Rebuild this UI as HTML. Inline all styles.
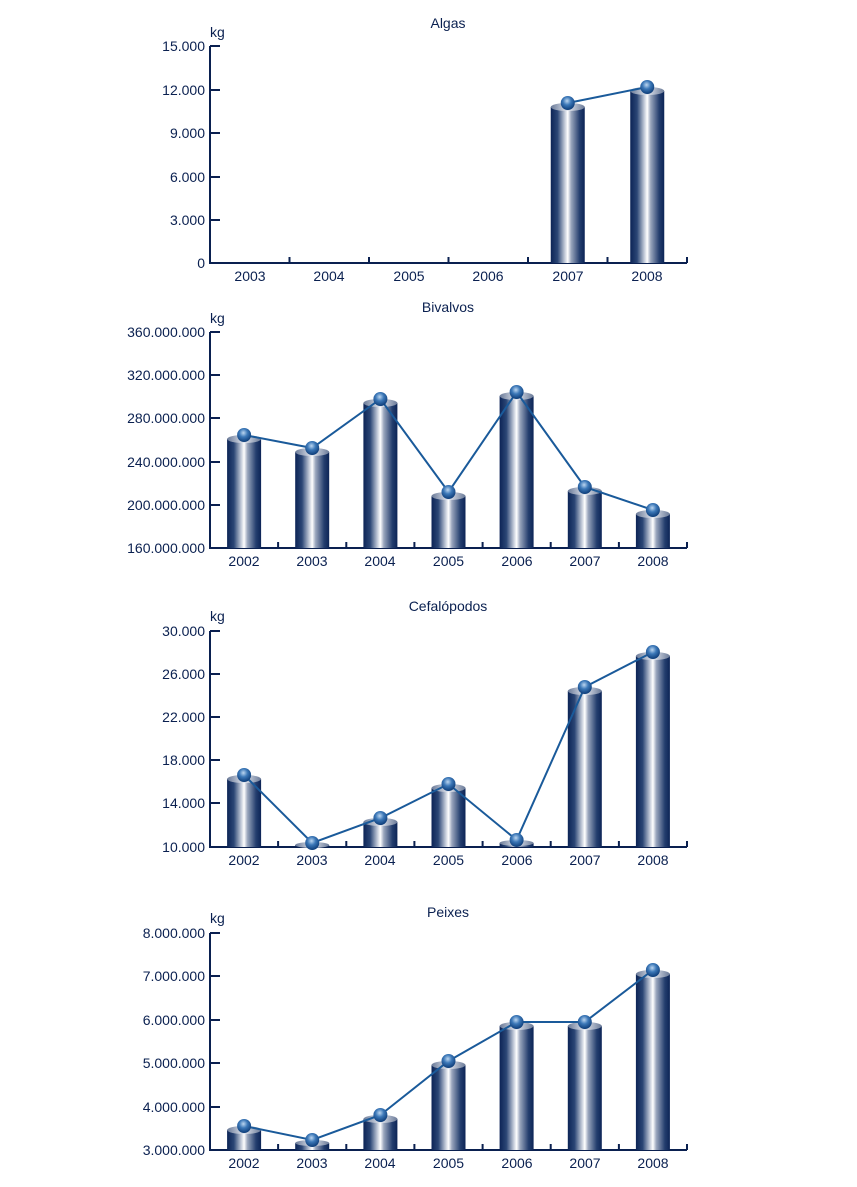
<!DOCTYPE html>
<html><head><meta charset="utf-8"><style>
html,body{margin:0;padding:0;background:#fff}
svg text{font-family:"Liberation Sans",sans-serif;font-size:14px;fill:#0a2050}
</style></head><body>
<svg width="857" height="1182" viewBox="0 0 857 1182" xmlns="http://www.w3.org/2000/svg">
<defs>
<linearGradient id="bg" x1="0" x2="1" y1="0" y2="0">
<stop offset="0" stop-color="#0c2456"/><stop offset="0.2" stop-color="#2b4675"/><stop offset="0.42" stop-color="#c8cfdc"/><stop offset="0.5" stop-color="#ffffff"/><stop offset="0.6" stop-color="#9aa6bd"/><stop offset="0.85" stop-color="#243e6e"/><stop offset="1" stop-color="#0c2456"/>
</linearGradient>
<linearGradient id="tg" x1="0" x2="1"><stop offset="0" stop-color="#6a7a98"/><stop offset="0.5" stop-color="#e4e8f0"/><stop offset="1" stop-color="#6a7a98"/></linearGradient>
<radialGradient id="sg" cx="0.45" cy="0.35" r="0.65"><stop offset="0" stop-color="#bcd6f0"/><stop offset="0.45" stop-color="#3c78b8"/><stop offset="1" stop-color="#0d3c78"/></radialGradient>
</defs>
<g stroke="#0a2050" stroke-width="2" fill="none">
<path d="M210 46V263H687"/>
<path d="M210 46h10M210 90h10M210 133h10M210 177h10M210 220h10"/>
<path d="M289.5 263v-6M369 263v-6M448.5 263v-6M528 263v-6M607.5 263v-6M687 263v-6"/>
<path d="M210 332V548H687"/>
<path d="M210 332h10M210 375h10M210 418h10M210 462h10M210 505h10"/>
<path d="M278.1 548v-6M346.3 548v-6M414.4 548v-6M482.6 548v-6M550.7 548v-6M618.9 548v-6M687 548v-6"/>
<path d="M210 631V847H687"/>
<path d="M210 631h10M210 674h10M210 717h10M210 760h10M210 803h10"/>
<path d="M278.1 847v-6M346.3 847v-6M414.4 847v-6M482.6 847v-6M550.7 847v-6M618.9 847v-6M687 847v-6"/>
<path d="M210 933V1150H687"/>
<path d="M210 933h10M210 976h10M210 1020h10M210 1063h10M210 1107h10"/>
<path d="M278.1 1150v-6M346.3 1150v-6M414.4 1150v-6M482.6 1150v-6M550.7 1150v-6M618.9 1150v-6M687 1150v-6"/>
</g>
<g>
<rect x="550.75" y="107" width="34" height="156" fill="url(#bg)"/><ellipse cx="567.75" cy="107" rx="17" ry="4" fill="url(#tg)"/>
<rect x="630.25" y="91" width="34" height="172" fill="url(#bg)"/><ellipse cx="647.25" cy="91" rx="17" ry="4" fill="url(#tg)"/>
<polyline points="567.75,103 647.25,87" fill="none" stroke="#1a5a9a" stroke-width="2"/>
<circle cx="567.75" cy="103" r="7" fill="url(#sg)"/><circle cx="647.25" cy="87" r="7" fill="url(#sg)"/>
</g>
<g>
<rect x="227.1" y="439" width="34" height="109" fill="url(#bg)"/><ellipse cx="244.1" cy="439" rx="17" ry="4" fill="url(#tg)"/>
<rect x="295.2" y="452" width="34" height="96" fill="url(#bg)"/><ellipse cx="312.2" cy="452" rx="17" ry="4" fill="url(#tg)"/>
<rect x="363.4" y="403" width="34" height="145" fill="url(#bg)"/><ellipse cx="380.4" cy="403" rx="17" ry="4" fill="url(#tg)"/>
<rect x="431.5" y="496" width="34" height="52" fill="url(#bg)"/><ellipse cx="448.5" cy="496" rx="17" ry="4" fill="url(#tg)"/>
<rect x="499.6" y="396" width="34" height="152" fill="url(#bg)"/><ellipse cx="516.6" cy="396" rx="17" ry="4" fill="url(#tg)"/>
<rect x="567.8" y="491" width="34" height="57" fill="url(#bg)"/><ellipse cx="584.8" cy="491" rx="17" ry="4" fill="url(#tg)"/>
<rect x="635.9" y="514" width="34" height="34" fill="url(#bg)"/><ellipse cx="652.9" cy="514" rx="17" ry="4" fill="url(#tg)"/>
<polyline points="244.1,435 312.2,448 380.4,399 448.5,492 516.6,392 584.8,487 652.9,510" fill="none" stroke="#1a5a9a" stroke-width="2"/>
<circle cx="244.1" cy="435" r="7" fill="url(#sg)"/><circle cx="312.2" cy="448" r="7" fill="url(#sg)"/><circle cx="380.4" cy="399" r="7" fill="url(#sg)"/><circle cx="448.5" cy="492" r="7" fill="url(#sg)"/><circle cx="516.6" cy="392" r="7" fill="url(#sg)"/><circle cx="584.8" cy="487" r="7" fill="url(#sg)"/><circle cx="652.9" cy="510" r="7" fill="url(#sg)"/>
</g>
<g>
<rect x="227.1" y="779" width="34" height="68" fill="url(#bg)"/><ellipse cx="244.1" cy="779" rx="17" ry="4" fill="url(#tg)"/>
<rect x="295.2" y="845" width="34" height="2" fill="url(#bg)"/><ellipse cx="312.2" cy="845" rx="17" ry="3" fill="url(#tg)"/>
<rect x="363.4" y="822" width="34" height="25" fill="url(#bg)"/><ellipse cx="380.4" cy="822" rx="17" ry="4" fill="url(#tg)"/>
<rect x="431.5" y="788" width="34" height="59" fill="url(#bg)"/><ellipse cx="448.5" cy="788" rx="17" ry="4" fill="url(#tg)"/>
<rect x="499.6" y="843" width="34" height="4" fill="url(#bg)"/><ellipse cx="516.6" cy="843" rx="17" ry="3" fill="url(#tg)"/>
<rect x="567.8" y="691" width="34" height="156" fill="url(#bg)"/><ellipse cx="584.8" cy="691" rx="17" ry="4" fill="url(#tg)"/>
<rect x="635.9" y="656" width="34" height="191" fill="url(#bg)"/><ellipse cx="652.9" cy="656" rx="17" ry="4" fill="url(#tg)"/>
<polyline points="244.1,775 312.2,843 380.4,818 448.5,784 516.6,840 584.8,687 652.9,652" fill="none" stroke="#1a5a9a" stroke-width="2"/>
<circle cx="244.1" cy="775" r="7" fill="url(#sg)"/><circle cx="312.2" cy="843" r="7" fill="url(#sg)"/><circle cx="380.4" cy="818" r="7" fill="url(#sg)"/><circle cx="448.5" cy="784" r="7" fill="url(#sg)"/><circle cx="516.6" cy="840" r="7" fill="url(#sg)"/><circle cx="584.8" cy="687" r="7" fill="url(#sg)"/><circle cx="652.9" cy="652" r="7" fill="url(#sg)"/>
</g>
<g>
<rect x="227.1" y="1130" width="34" height="20" fill="url(#bg)"/><ellipse cx="244.1" cy="1130" rx="17" ry="4" fill="url(#tg)"/>
<rect x="295.2" y="1143" width="34" height="7" fill="url(#bg)"/><ellipse cx="312.2" cy="1143" rx="17" ry="3" fill="url(#tg)"/>
<rect x="363.4" y="1119" width="34" height="31" fill="url(#bg)"/><ellipse cx="380.4" cy="1119" rx="17" ry="4" fill="url(#tg)"/>
<rect x="431.5" y="1065" width="34" height="85" fill="url(#bg)"/><ellipse cx="448.5" cy="1065" rx="17" ry="4" fill="url(#tg)"/>
<rect x="499.6" y="1026" width="34" height="124" fill="url(#bg)"/><ellipse cx="516.6" cy="1026" rx="17" ry="4" fill="url(#tg)"/>
<rect x="567.8" y="1026" width="34" height="124" fill="url(#bg)"/><ellipse cx="584.8" cy="1026" rx="17" ry="4" fill="url(#tg)"/>
<rect x="635.9" y="974" width="34" height="176" fill="url(#bg)"/><ellipse cx="652.9" cy="974" rx="17" ry="4" fill="url(#tg)"/>
<polyline points="244.1,1126 312.2,1140 380.4,1115 448.5,1061 516.6,1022 584.8,1022 652.9,970" fill="none" stroke="#1a5a9a" stroke-width="2"/>
<circle cx="244.1" cy="1126" r="7" fill="url(#sg)"/><circle cx="312.2" cy="1140" r="7" fill="url(#sg)"/><circle cx="380.4" cy="1115" r="7" fill="url(#sg)"/><circle cx="448.5" cy="1061" r="7" fill="url(#sg)"/><circle cx="516.6" cy="1022" r="7" fill="url(#sg)"/><circle cx="584.8" cy="1022" r="7" fill="url(#sg)"/><circle cx="652.9" cy="970" r="7" fill="url(#sg)"/>
</g>
<g text-anchor="middle">
<text x="448" y="28">Algas</text>
<text x="448" y="312">Bivalvos</text>
<text x="448" y="611">Cefalópodos</text>
<text x="448" y="917">Peixes</text>
</g>
<g>
<text x="210" y="37">kg</text><text x="210" y="323">kg</text><text x="210" y="621">kg</text><text x="210" y="923">kg</text>
</g>
<g text-anchor="end">
<text x="205" y="51">15.000</text><text x="205" y="95">12.000</text><text x="205" y="138">9.000</text><text x="205" y="182">6.000</text><text x="205" y="225">3.000</text><text x="205" y="268">0</text>
<text x="205" y="337">360.000.000</text><text x="205" y="380">320.000.000</text><text x="205" y="423">280.000.000</text><text x="205" y="467">240.000.000</text><text x="205" y="510">200.000.000</text><text x="205" y="553">160.000.000</text>
<text x="205" y="636">30.000</text><text x="205" y="679">26.000</text><text x="205" y="722">22.000</text><text x="205" y="765">18.000</text><text x="205" y="808">14.000</text><text x="205" y="852">10.000</text>
<text x="205" y="938">8.000.000</text><text x="205" y="981">7.000.000</text><text x="205" y="1025">6.000.000</text><text x="205" y="1068">5.000.000</text><text x="205" y="1112">4.000.000</text><text x="205" y="1155">3.000.000</text>
</g>
<g text-anchor="middle">
<text x="250" y="281">2003</text><text x="329" y="281">2004</text><text x="409" y="281">2005</text><text x="488" y="281">2006</text><text x="568" y="281">2007</text><text x="647" y="281">2008</text>
<text x="244" y="566">2002</text><text x="312" y="566">2003</text><text x="380" y="566">2004</text><text x="448.5" y="566">2005</text><text x="517" y="566">2006</text><text x="585" y="566">2007</text><text x="653" y="566">2008</text>
<text x="244" y="865">2002</text><text x="312" y="865">2003</text><text x="380" y="865">2004</text><text x="448.5" y="865">2005</text><text x="517" y="865">2006</text><text x="585" y="865">2007</text><text x="653" y="865">2008</text>
<text x="244" y="1168">2002</text><text x="312" y="1168">2003</text><text x="380" y="1168">2004</text><text x="448.5" y="1168">2005</text><text x="517" y="1168">2006</text><text x="585" y="1168">2007</text><text x="653" y="1168">2008</text>
</g>
</svg>
</body></html>
